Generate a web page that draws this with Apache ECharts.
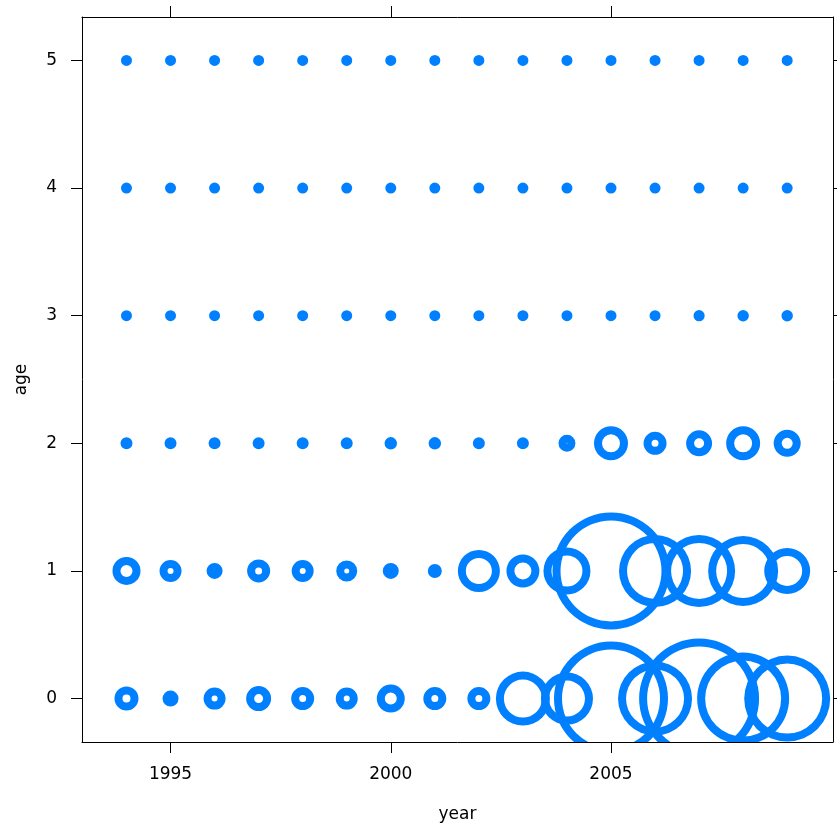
<!DOCTYPE html>
<html>
<head>
<meta charset="utf-8">
<script src="https://cdn.jsdelivr.net/npm/echarts@6/dist/echarts.min.js"></script>
<style>
html,body{margin:0;padding:0;background:#fff;}
#chart{width:837px;height:828px;}
</style>
</head>
<body>
<div id="chart"></div>
<script>
// ---- data ----
const years = [1994,1995,1996,1997,1998,1999,2000,2001,2002,2003,2004,2005,2006,2007,2008,2009];
const ages = [0,1,2,3,4,5];
// relative magnitudes (bubble area proportional to value)
const age0 = [2.56,0.64,1.96,2.89,2.25,1.96,4.0,2.25,2.25,21.2,19.4,112.4,43.6,125.4,70.6,60.8];
const age1 = [4.0,1.96,0.64,2.25,1.96,1.69,0.64,0.36,11.6,6.25,15.2,118.8,41.0,41.0,38.4,14.4];
const age2 = [0.16,0.16,0.16,0.16,0.16,0.16,0.2,0.2,0.16,0.16,0.8,6.76,2.25,3.24,6.76,3.61];
const age3 = [0.09,0.09,0.09,0.09,0.09,0.09,0.09,0.09,0.09,0.09,0.09,0.09,0.09,0.1,0.12,0.12];
const age4 = [0.09,0.09,0.09,0.09,0.09,0.09,0.09,0.09,0.09,0.09,0.09,0.09,0.09,0.09,0.09,0.09];
const age5 = [0.09,0.09,0.09,0.09,0.09,0.09,0.09,0.09,0.09,0.09,0.09,0.09,0.09,0.09,0.09,0.09];
const xTicks = [1995,2000,2005];
const yTicks = [0,1,2,3,4,5];
const xLabel = 'year';
const yLabel = 'age';

const rows = [age0, age1, age2, age3, age4, age5];
const points = [];
rows.forEach((vals, a) => {
  vals.forEach((v, i) => points.push([years[i], ages[a], v]));
});

const FONT = 'DejaVu Sans';
const BLUE = '#0080ff';
const LW = 8;
const xRange = [1992.99, 2010.04];
const yRange = [-0.34, 5.34];

function xAxisCfg(pos, labels) {
  return {
    type: 'value', position: pos, min: xRange[0], max: xRange[1],
    splitLine: {show: false}, z: 10,
    axisLine: {show: true, onZero: false, lineStyle: {color: '#000', width: 1}},
    axisTick: {show: true, inside: false, length: 11, customValues: xTicks, lineStyle: {color: '#000', width: 1}},
    axisLabel: {show: labels, customValues: xTicks, formatter: v => String(v), margin: 24, color: '#000', fontFamily: FONT, fontSize: 17},
    name: labels ? xLabel : '', nameLocation: 'middle', nameGap: 64,
    nameTextStyle: {color: '#000', fontFamily: FONT, fontSize: 17}
  };
}
function yAxisCfg(pos, labels) {
  return {
    type: 'value', position: pos, min: yRange[0], max: yRange[1],
    splitLine: {show: false}, z: 10,
    axisLine: {show: true, onZero: false, lineStyle: {color: '#000', width: 1}},
    axisTick: {show: true, inside: false, length: 11, customValues: yTicks, lineStyle: {color: '#000', width: 1}},
    axisLabel: {show: labels, customValues: yTicks, formatter: v => String(v), margin: 25, color: '#000', fontFamily: FONT, fontSize: 17},
    name: labels ? yLabel : '', nameLocation: 'middle', nameGap: 52, nameRotate: 90,
    nameTextStyle: {color: '#000', fontFamily: FONT, fontSize: 17}
  };
}

const chart = echarts.init(document.getElementById('chart'), null, {renderer: 'canvas'});
chart.setOption({
  animation: false,
  backgroundColor: '#fff',
  grid: {left: 82, right: 4, top: 17, bottom: 86, containLabel: false},
  xAxis: [xAxisCfg('bottom', true), xAxisCfg('top', false)],
  yAxis: [yAxisCfg('left', true), yAxisCfg('right', false)],
  series: [{
    type: 'custom',
    data: points,
    clip: true,
    silent: true,
    encode: {x: 0, y: 1},
    renderItem: function (params, api) {
      const c = api.coord([api.value(0), api.value(1)]);
      const r = 5 * Math.sqrt(api.value(2));
      return {
        type: 'ring',
        shape: {cx: c[0], cy: c[1], r: r + LW / 2, r0: Math.max(0, r - LW / 2)},
        style: {fill: BLUE, stroke: null}
      };
    }
  }]
});
</script>
</body>
</html>
